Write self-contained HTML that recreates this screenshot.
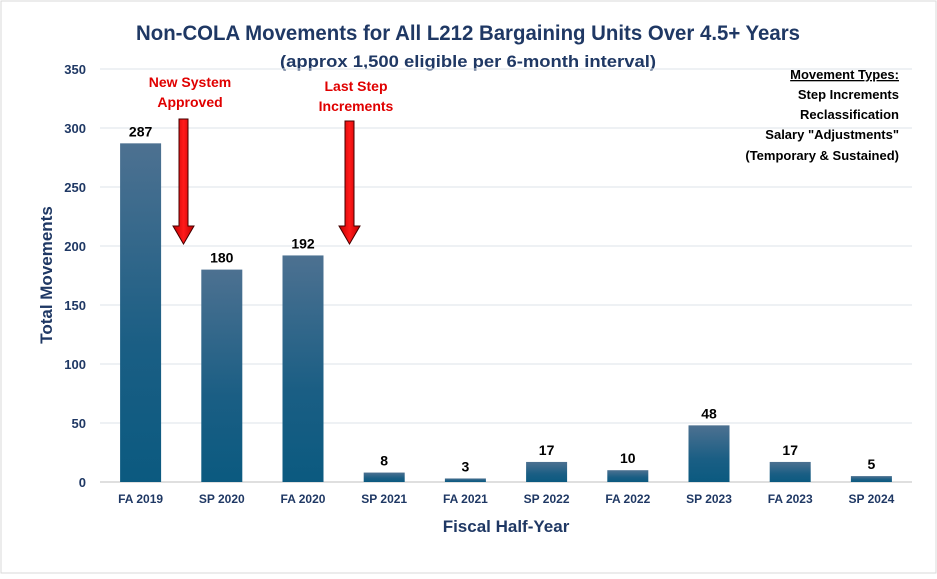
<!DOCTYPE html>
<html><head><meta charset="utf-8"><style>
body{margin:0;background:#fff;font-family:"Liberation Sans",sans-serif}
svg text{font-family:"Liberation Sans",sans-serif;font-weight:bold}
</style></head><body>
<svg id="c" width="937" height="574">
<defs>
<linearGradient id="g" x1="0" y1="0" x2="0" y2="1"><stop offset="0" stop-color="#4d7191"/><stop offset="0.6" stop-color="#1a5e84"/><stop offset="1" stop-color="#0b5a80"/></linearGradient>
<linearGradient id="r" x1="0" y1="0" x2="1" y2="0"><stop offset="0" stop-color="#c00000"/><stop offset="0.5" stop-color="#ff1a1a"/><stop offset="1" stop-color="#c00000"/></linearGradient>
</defs>
<rect x="1" y="1" width="935" height="572" fill="#fff" stroke="#d9d9d9"/>
<text x="468" y="40" text-anchor="middle" font-size="21" fill="#1f3864" textLength="664" lengthAdjust="spacingAndGlyphs">Non-COLA Movements for All L212 Bargaining Units Over 4.5+ Years</text>
<text x="468" y="67" text-anchor="middle" font-size="17" fill="#1f3864" textLength="376" lengthAdjust="spacingAndGlyphs">(approx 1,500 eligible per 6-month interval)</text>
<g id="grid"></g><g id="bars"></g>
<text x="52" y="275" text-anchor="middle" font-size="17" fill="#1f3864" transform="rotate(-90 52 275)">Total Movements</text>
<text x="506" y="532" text-anchor="middle" font-size="17" fill="#1f3864">Fiscal Half-Year</text>
<g font-size="14" fill="#e00000" text-anchor="middle">
<text x="190" y="87">New System</text>
<text x="190" y="107">Approved</text>
<text x="356" y="91">Last Step</text>
<text x="356" y="111">Increments</text>
</g>
<path d="M179,119 H188 V226 H194 L183.5,244 L173,226 H179 Z" fill="url(#r)" stroke="#400" stroke-width="1"/>
<path d="M345,121 H354 V226 H360 L349.5,244 L339,226 H345 Z" fill="url(#r)" stroke="#400" stroke-width="1"/>
<g font-size="13" fill="#000" text-anchor="end">
<text x="899" y="79" text-decoration="underline">Movement Types:</text>
<text x="899" y="99">Step Increments</text>
<text x="899" y="119">Reclassification</text>
<text x="899" y="139">Salary "Adjustments"</text>
<text x="899" y="160">(Temporary &amp; Sustained)</text>
</g>
</svg>
<script>
const categories=["FA 2019","SP 2020","FA 2020","SP 2021","FA 2021","SP 2022","FA 2022","SP 2023","FA 2023","SP 2024"];
const values=[287,180,192,8,3,17,10,48,17,5];
const yTicks=[0,50,100,150,200,250,300,350];
const NS="http://www.w3.org/2000/svg";
const L=100,R=912,Y0=482,Y350=69;
const y=v=>Y0-(v/350)*(Y0-Y350);
const step=(R-L)/categories.length;
const x=i=>L+step*(i+0.5);
function mk(t,a,p){const e=document.createElementNS(NS,t);for(const k in a)e.setAttribute(k,a[k]);p.appendChild(e);return e;}
const grid=document.getElementById('grid'),bars=document.getElementById('bars');
yTicks.forEach(t=>{
 const l=mk('line',{x1:L,x2:R,y1:y(t),y2:y(t),stroke:t?'#dde3ea':'#bfbfbf','stroke-width':1},grid);
 
 
 const tx=mk('text',{x:86,y:y(t)+5,'text-anchor':'end','font-size':13,fill:'#1f3864'},grid);tx.textContent=t;
 
 
});
values.forEach((v,i)=>{
 const b=mk('rect',{x:x(i)-20.5,y:y(v),width:41,height:Y0-y(v),fill:'url(#g)'},bars);
 
 
 const lb=mk('text',{x:x(i),y:y(v)-7,'text-anchor':'middle','font-size':14,fill:'#000'},bars);lb.textContent=v;
 
 
 const c=mk('text',{x:x(i),y:503,'text-anchor':'middle','font-size':12,fill:'#1f3864'},bars);c.textContent=categories[i];
 
 
});
</script>
</body></html>
